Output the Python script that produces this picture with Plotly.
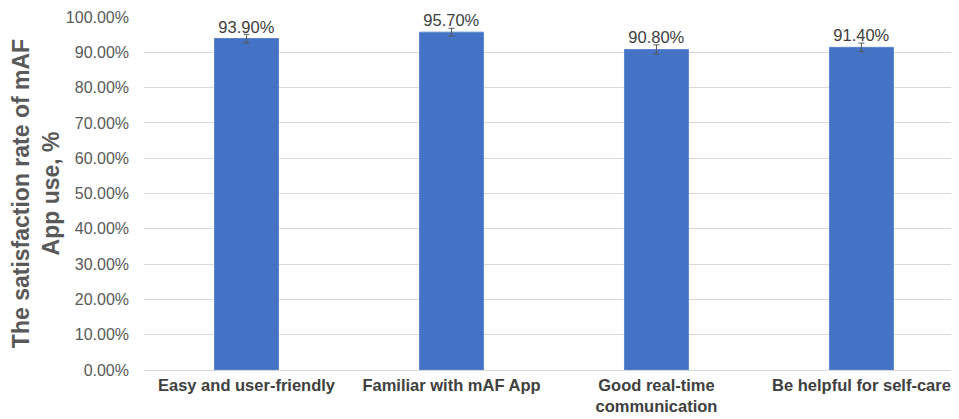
import plotly.graph_objects as go

categories = ["Easy and user-friendly", "Familiar with mAF App", "Good real-time<br>communication", "Be helpful for self-care"]
values = [93.9, 95.7, 90.8, 91.4]
errors = [1.2, 1.1, 1.3, 1.2]
labels = ["93.90%", "95.70%", "90.80%", "91.40%"]
yticks = [0, 10, 20, 30, 40, 50, 60, 70, 80, 90, 100]

fig = go.Figure()
fig.add_trace(go.Bar(
    x=list(range(len(categories))), y=values,
    width=0.312,
    marker=dict(color="#4472C4", line=dict(color="#5B86D0", width=1)),
    error_y=dict(type="data", array=errors, color="#595959", thickness=1, width=3),
    text=labels, textposition="outside", cliponaxis=False,
    textfont=dict(family="Liberation Sans, Arial, sans-serif", size=16.5, color="#404040"),
))

# page body has an 8px margin, so the figure is offset by 8px
fig.update_layout(
    width=951, height=411,
    margin=dict(l=136, r=0, t=9, b=49),
    plot_bgcolor="white", paper_bgcolor="white",
    showlegend=False,
    font=dict(family="Liberation Sans, Arial, sans-serif", color="#595959"),
)
fig.update_xaxes(
    tickvals=list(range(len(categories))), ticktext=["<b>%s</b>" % c for c in categories],
    range=[-0.5, 3.476],
    tickfont=dict(size=16.5, color="#404040"),
    showline=True, linecolor="#D9D9D9", linewidth=1,
    showgrid=False, ticks="",
)
fig.update_yaxes(
    range=[0, 100], tickvals=yticks,
    ticktext=["%.2f%%" % v for v in yticks],
    tickfont=dict(size=16, color="#595959"),
    showgrid=True, gridcolor="#D9D9D9", gridwidth=1,
    zeroline=False,
    ticklabelstandoff=14,
    title=dict(text="<b>The satisfaction rate of mAF<br>App use, %</b>",
               font=dict(size=23, color="#595959"), standoff=10),
    automargin=False,
)
fig.write_html("out.html")
